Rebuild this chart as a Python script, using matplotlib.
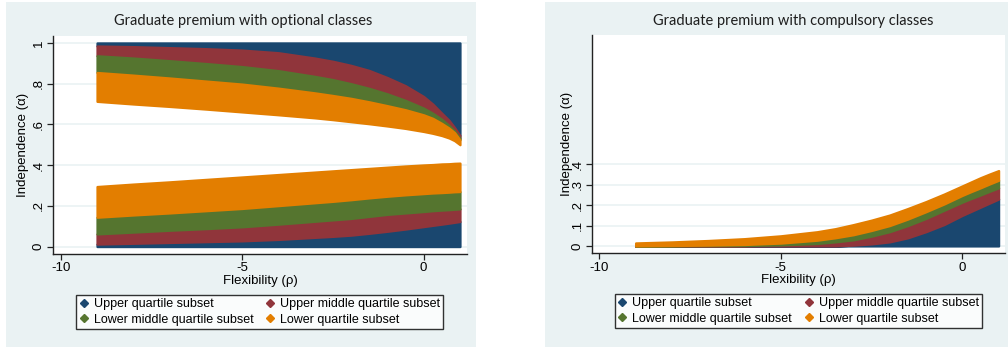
import matplotlib.pyplot as plt
from matplotlib.lines import Line2D
from matplotlib.patches import Rectangle

# rho knots where the band edges were traced
rho_opt = [-9, -8, -7, -6, -5, -4, -3, -2.5, -2, -1.5, -1, -0.5, 0, 0.25, 0.5, 0.7, 0.85, 1.0]
# optional classes, upper group (top edge is 1)
opt_hi_blue = [0.985, 0.982, 0.977, 0.972, 0.965, 0.952, 0.926, 0.91, 0.89, 0.865, 0.83, 0.79,
               0.737, 0.70, 0.655, 0.62, 0.585, 0.545]
opt_hi_red = [0.937, 0.926, 0.913, 0.899, 0.884, 0.864, 0.836, 0.82, 0.80, 0.777, 0.75, 0.718,
              0.68, 0.655, 0.625, 0.595, 0.568, 0.533]
opt_hi_green = [0.855, 0.842, 0.828, 0.813, 0.798, 0.778, 0.755, 0.742, 0.728, 0.711, 0.692, 0.672,
                0.647, 0.63, 0.605, 0.582, 0.56, 0.524]
opt_hi_orange = [0.713, 0.70, 0.688, 0.675, 0.661, 0.647, 0.632, 0.623, 0.613, 0.603, 0.592, 0.58,
                 0.565, 0.556, 0.545, 0.533, 0.52, 0.50]
# optional classes, lower group (bottom edge is 0)
opt_lo_blue = [0.012, 0.016, 0.02, 0.024, 0.028, 0.035, 0.045, 0.05, 0.056, 0.065, 0.075, 0.086,
               0.098, 0.104, 0.11, 0.115, 0.119, 0.123]
opt_lo_red = [0.062, 0.071, 0.08, 0.088, 0.097, 0.11, 0.124, 0.131, 0.138, 0.148, 0.158, 0.165,
              0.172, 0.176, 0.179, 0.181, 0.183, 0.185]
opt_lo_green = [0.144, 0.155, 0.165, 0.176, 0.187, 0.201, 0.215, 0.222, 0.23, 0.239, 0.247, 0.254,
                0.26, 0.263, 0.265, 0.267, 0.269, 0.27]
opt_lo_orange = [0.295, 0.307, 0.318, 0.33, 0.342, 0.354, 0.366, 0.372, 0.378, 0.384, 0.39, 0.396,
                 0.401, 0.403, 0.406, 0.407, 0.409, 0.41]

# compulsory classes (stacked from 0)
rho_comp = [-9, -8, -7, -6, -5, -4, -3.5, -3, -2.5, -2, -1.5, -1, -0.5, 0, 0.25, 0.5, 0.75, 1.0]
comp_blue = [0, 0, 0, 0, 0, 0, 0, 0.004, 0.01, 0.02, 0.04, 0.07, 0.105, 0.15, 0.17, 0.19, 0.21, 0.23]
comp_red = [0, 0, 0.001, 0.002, 0.005, 0.012, 0.02, 0.03, 0.048, 0.07, 0.10, 0.135, 0.175, 0.215,
            0.233, 0.25, 0.268, 0.285]
comp_green = [0, 0.002, 0.004, 0.007, 0.014, 0.028, 0.04, 0.055, 0.076, 0.10, 0.132, 0.168, 0.206,
              0.248, 0.267, 0.285, 0.304, 0.322]
comp_orange = [0.015, 0.02, 0.027, 0.036, 0.05, 0.07, 0.085, 0.105, 0.127, 0.152, 0.184, 0.218,
               0.255, 0.295, 0.315, 0.335, 0.353, 0.37]

labels = ['Upper quartile subset', 'Upper middle quartile subset',
          'Lower middle quartile subset', 'Lower quartile subset']
colors = ['#1a476f', '#90353b', '#55752f', '#e37e00']
bg = '#eaf2f3'

plt.rcParams['font.family'] = ['Liberation Sans', 'DejaVu Sans']

W, H = 1008, 347
fig = plt.figure(figsize=(W / 100, H / 100), dpi=100, facecolor='white')

# graph regions
fig.patches.append(Rectangle((6 / W, 0), 470 / W, 345 / H, transform=fig.transFigure,
                             facecolor=bg, edgecolor='none', zorder=-10))
fig.patches.append(Rectangle((545 / W, 0), 463 / W, 345 / H, transform=fig.transFigure,
                             facecolor=bg, edgecolor='none', zorder=-10))


def px_axes(x0, x1, ytop, ybot):
    return fig.add_axes([x0 / W, 1 - ybot / H, (x1 - x0) / W, (ybot - ytop) / H])


ax1 = px_axes(53.3, 466.7, 36, 253.5)
ax2 = px_axes(592.3, 1005, 35, 253.3)


def band(ax, x, lo, hi, c):
    ax.fill_between(x, lo, hi, facecolor=c, edgecolor=c, linewidth=1.6, zorder=3)


zeros = [0] * len(rho_opt)
ones = [1] * len(rho_opt)
band(ax1, rho_opt, zeros, opt_lo_blue, colors[0])
band(ax1, rho_opt, opt_lo_blue, opt_lo_red, colors[1])
band(ax1, rho_opt, opt_lo_red, opt_lo_green, colors[2])
band(ax1, rho_opt, opt_lo_green, opt_lo_orange, colors[3])
band(ax1, rho_opt, opt_hi_blue, ones, colors[0])
band(ax1, rho_opt, opt_hi_red, opt_hi_blue, colors[1])
band(ax1, rho_opt, opt_hi_green, opt_hi_red, colors[2])
band(ax1, rho_opt, opt_hi_orange, opt_hi_green, colors[3])

zc = [0] * len(rho_comp)
band(ax2, rho_comp, zc, comp_blue, colors[0])
band(ax2, rho_comp, comp_blue, comp_red, colors[1])
band(ax2, rho_comp, comp_red, comp_green, colors[2])
band(ax2, rho_comp, comp_green, comp_orange, colors[3])

ax1.set_xlim(-10.204, 1.185)
ax1.set_ylim(-0.034, 1.034)
ax2.set_xlim(-10.193, 1.176)
ax2.set_ylim(-0.036, 1.035)

ax1.set_yticks([0, 0.2, 0.4, 0.6, 0.8, 1])
ax1.set_yticklabels(['0', '.2', '.4', '.6', '.8', '1'])
ax2.set_yticks([0, 0.1, 0.2, 0.3, 0.4])
ax2.set_yticklabels(['0', '.1', '.2', '.3', '.4'])

for ax in (ax1, ax2):
    ax.set_facecolor('white')
    ax.set_xticks([-10, -5, 0])
    ax.set_xticklabels(['-10', '-5', '0'])
    for s in ('top', 'right'):
        ax.spines[s].set_visible(False)
    for s in ('left', 'bottom'):
        ax.spines[s].set_color('#222222')
        ax.spines[s].set_linewidth(1.0)
    ax.tick_params(direction='out', length=4, width=0.9, color='#222222',
                   labelsize=9.5, pad=2)
    ax.tick_params(axis='y', labelrotation=90)
    for t in ax.get_yticklabels():
        t.set_va('center')
    ax.grid(axis='y', color=bg, linewidth=1.2, zorder=0)
    ax.set_axisbelow(True)
    ax.set_xlabel('Flexibility (ρ)', fontsize=9.5, labelpad=0.5)
    ax.set_ylabel('Independence (α)', fontsize=9.5)

ax1.yaxis.set_label_coords(-0.058, 0.5)
ax2.yaxis.set_label_coords(-0.046, 0.5)

fig.text(243 / W, 1 - 20.7 / H, 'Graduate premium with optional classes',
         ha='center', va='center', fontsize=10.5, family=['Lato', 'DejaVu Sans'], color='#1e1e1e')
fig.text(793 / W, 1 - 20.7 / H, 'Graduate premium with compulsory classes',
         ha='center', va='center', fontsize=10.5, family=['Lato', 'DejaVu Sans'], color='#1e1e1e')

handles = [Line2D([], [], linestyle='none', marker='D', markersize=3.8,
                  color=c) for c in colors]
order = [0, 2, 1, 3]
for cx, cy in ((259.7, 312), (798.5, 311)):
    leg = fig.legend([handles[i] for i in order], [labels[i] for i in order],
                     ncol=2, loc='center', bbox_to_anchor=(cx / W, 1 - cy / H),
                     fontsize=9, frameon=True, fancybox=False, edgecolor='black',
                     handlelength=0.7, handletextpad=0.45, columnspacing=1.0,
                     borderpad=0.25, labelspacing=0.25, borderaxespad=0)
    leg.get_frame().set_linewidth(1.0)

fig.savefig('out.png', dpi=100)
